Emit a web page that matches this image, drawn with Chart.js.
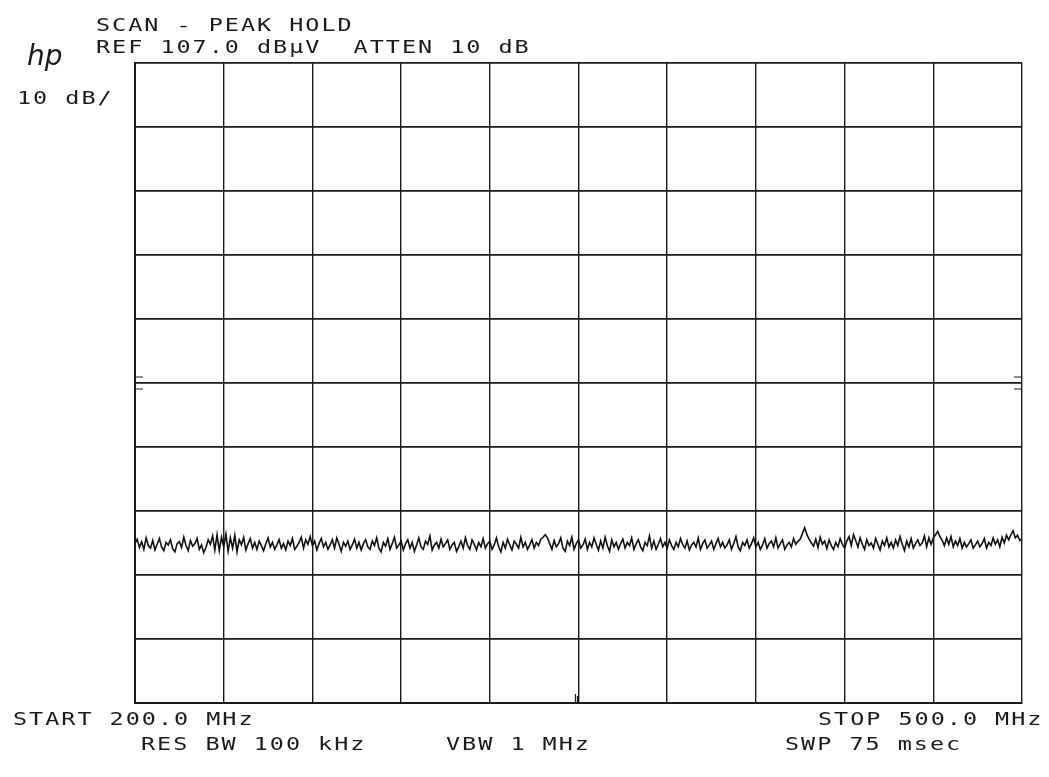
<!DOCTYPE html>
<html>
<head>
<meta charset="utf-8">
<script src="https://cdn.jsdelivr.net/npm/chart.js@4"></script>
<style>
html,body{margin:0;padding:0;background:#fff;}
#wrap{width:1049px;height:777px;}
</style>
</head>
<body>
<div id="wrap"><canvas id="c" width="1049" height="777"></canvas></div>
<script>
const START_MHZ = 200.0;
const STOP_MHZ = 500.0;
const REF_DBUV = 107.0;
const DB_PER_DIV = 10;
const DIVISIONS = 10;

const traceDbuv = [
31.9,32.6,31.3,32.2,31.0,32.8,31.6,31.2,32.4,30.9,31.8,32.7,31.4,30.8,32.1,31.7,32.5,31.1,30.6,31.9,
32.2,31.3,32.9,31.6,30.8,32.4,31.5,31.9,32.7,31.0,31.7,30.5,31.3,32.5,31.8,33.1,30.9,33.3,30.8,32.9,
31.4,33.4,30.7,32.8,31.2,33.2,30.6,32.5,31.7,32.9,30.9,31.9,32.7,31.2,32.1,31.0,32.3,31.6,30.8,31.9,
32.8,31.4,32.1,31.0,31.7,32.5,31.2,31.9,30.9,32.3,31.6,32.7,31.0,31.5,32.1,32.9,31.2,32.5,31.8,33.0,
31.6,32.3,30.9,31.9,32.7,31.4,32.1,31.0,31.7,32.5,31.2,32.8,31.8,30.7,32.1,31.5,32.3,31.0,31.7,32.6,
31.2,32.1,30.9,31.9,32.5,31.4,31.0,32.3,31.6,32.8,31.2,30.6,32.1,31.5,32.7,31.0,31.9,32.9,31.2,31.7,
32.3,30.9,31.9,32.5,31.2,32.1,30.7,31.7,32.8,31.4,31.0,32.3,31.8,33.1,30.9,31.7,32.1,31.2,32.6,31.4,
31.9,32.5,31.0,31.7,32.1,30.7,31.4,32.3,31.2,32.8,31.6,31.0,32.5,31.8,30.9,32.1,31.4,32.7,31.2,31.9,
32.3,31.0,31.7,32.8,31.4,30.6,32.1,31.2,32.6,31.7,30.9,32.3,31.8,31.2,32.9,31.4,32.1,31.0,31.7,32.5,
31.2,32.1,31.6,32.6,32.9,33.3,32.8,31.9,31.0,32.4,31.4,31.9,32.8,31.2,30.7,32.3,31.6,32.9,31.0,31.9,
32.5,31.2,31.7,32.6,31.0,32.1,31.4,32.8,31.8,30.9,32.3,31.2,32.9,31.6,30.7,32.5,31.4,32.1,31.0,31.9,
32.6,31.2,32.1,31.6,32.8,31.0,31.9,32.5,31.4,30.8,32.1,31.6,33.1,31.2,32.3,31.0,31.8,32.7,31.4,32.1,
31.2,32.5,31.6,31.0,32.1,31.4,32.7,31.8,31.2,32.3,30.9,31.7,32.1,31.4,32.8,31.0,31.9,32.5,31.2,31.7,
32.3,31.0,31.9,32.7,31.4,32.1,31.2,31.7,32.5,31.0,31.9,33.0,31.4,30.8,32.1,31.6,32.5,31.2,31.9,32.8,
31.4,32.1,31.0,31.7,32.7,31.2,31.9,32.3,31.4,32.8,31.2,31.9,32.5,31.0,31.7,32.1,31.4,32.7,31.8,32.3,
32.6,33.5,34.4,33.3,32.6,32.0,31.5,32.6,31.3,32.9,31.8,32.3,31.1,32.5,31.6,31.0,32.1,31.4,32.7,31.8,
31.2,32.3,33.0,31.6,33.3,32.4,31.4,32.8,31.8,31.0,32.5,31.6,32.0,31.2,32.7,31.8,30.9,32.3,31.6,32.8,
31.4,32.1,31.2,32.5,31.6,33.0,31.8,30.8,32.3,31.4,32.7,31.2,31.9,32.5,31.6,32.0,33.1,31.4,32.8,31.8,
32.8,33.3,33.8,33.0,32.4,31.6,32.8,31.8,33.0,31.4,32.3,31.6,32.7,31.2,32.1,31.4,31.9,32.5,31.2,31.7,
32.3,31.4,31.9,32.7,31.2,32.1,31.6,32.8,31.8,32.5,31.4,32.9,32.0,33.2,32.5,33.3,33.9,32.8,33.2,32.4,
32.7
];

const headerLines = ["SCAN - PEAK HOLD", "REF 107.0 dB\u00b5V  ATTEN 10 dB"];
const scaleLabel = "10 dB/";
const logoText = "hp";
const footerLeft = "START 200.0 MHz";
const footerRight = "STOP 500.0 MHz";
const footerLine2 = ["RES BW 100 kHz", "VBW 1 MHz", "SWP 75 msec"];

const freqs = traceDbuv.map((_, i) => START_MHZ + i * (STOP_MHZ - START_MHZ) / (traceDbuv.length - 1));
const points = traceDbuv.map((v, i) => ({x: freqs[i], y: v}));

const PITCH = 16.1;
function monoText(ctx, str, x, y) {
  for (let i = 0; i < str.length; i++) {
    ctx.save();
    ctx.translate(x + i * PITCH, y);
    ctx.scale(1.38, 1);
    ctx.fillText(str[i], 0, 0);
    ctx.restore();
  }
}

const annot = {
  id: 'annot',
  afterDraw(chart) {
    const ctx = chart.ctx;
    const a = chart.chartArea;
    const ys = chart.scales.y;
    ctx.save();
    ctx.fillStyle = '#1a1a1a';
    ctx.font = '17px "DejaVu Sans Mono"';
    ctx.textBaseline = 'alphabetic';
    monoText(ctx, headerLines[0], 96, 31);
    monoText(ctx, headerLines[1], 96, 53);
    monoText(ctx, scaleLabel, 17, 104);
    monoText(ctx, footerLeft, 13, 725);
    monoText(ctx, footerRight, 818, 725);
    monoText(ctx, footerLine2[0], 141, 750);
    monoText(ctx, footerLine2[1], 446, 750);
    monoText(ctx, footerLine2[2], 785, 750);
    ctx.font = 'italic 28px "DejaVu Sans"';
    ctx.save();
    ctx.translate(27, 65);
    ctx.scale(1.0, 1);
    ctx.fillText(logoText, 0, 0);
    ctx.restore();
    const yMid = ys.getPixelForValue(REF_DBUV - 5 * DB_PER_DIV);
    ctx.strokeStyle = '#1a1a1a';
    ctx.lineWidth = 1.2;
    ctx.beginPath();
    ctx.moveTo(a.left, yMid - 6); ctx.lineTo(a.left + 8, yMid - 6);
    ctx.moveTo(a.left, yMid + 6); ctx.lineTo(a.left + 8, yMid + 6);
    ctx.moveTo(a.right, yMid - 6); ctx.lineTo(a.right - 8, yMid - 6);
    ctx.moveTo(a.right, yMid + 6); ctx.lineTo(a.right - 8, yMid + 6);
    const xMid = chart.scales.x.getPixelForValue((START_MHZ + STOP_MHZ) / 2) - 3;
    ctx.moveTo(xMid, a.bottom); ctx.lineTo(xMid, a.bottom - 9);
    ctx.moveTo(xMid + 2, a.bottom); ctx.lineTo(xMid + 2, a.bottom - 7);
    ctx.stroke();
    ctx.restore();
  }
};

new Chart(document.getElementById('c'), {
  type: 'line',
  data: {
    datasets: [{
      data: points,
      borderColor: '#111',
      borderWidth: 1.6,
      pointRadius: 0,
      tension: 0,
      fill: false
    }]
  },
  options: {
    responsive: false,
    animation: false,
    devicePixelRatio: 1,
    layout: {padding: {left: 135, right: 27, top: 63, bottom: 74}},
    plugins: {legend: {display: false}, tooltip: {enabled: false}},
    scales: {
      x: {
        type: 'linear',
        min: START_MHZ, max: STOP_MHZ,
        ticks: {display: false, stepSize: (STOP_MHZ - START_MHZ) / DIVISIONS},
        grid: {color: '#1a1a1a', lineWidth: 1.4, drawTicks: false, tickLength: 0},
        border: {display: true, color: '#1a1a1a', width: 2}
      },
      y: {
        min: REF_DBUV - DIVISIONS * DB_PER_DIV, max: REF_DBUV,
        ticks: {display: false, stepSize: DB_PER_DIV},
        grid: {color: '#1a1a1a', lineWidth: 1.8, drawTicks: false, tickLength: 0},
        border: {display: true, color: '#1a1a1a', width: 2}
      }
    }
  },
  plugins: [annot]
});
</script>
</body>
</html>
